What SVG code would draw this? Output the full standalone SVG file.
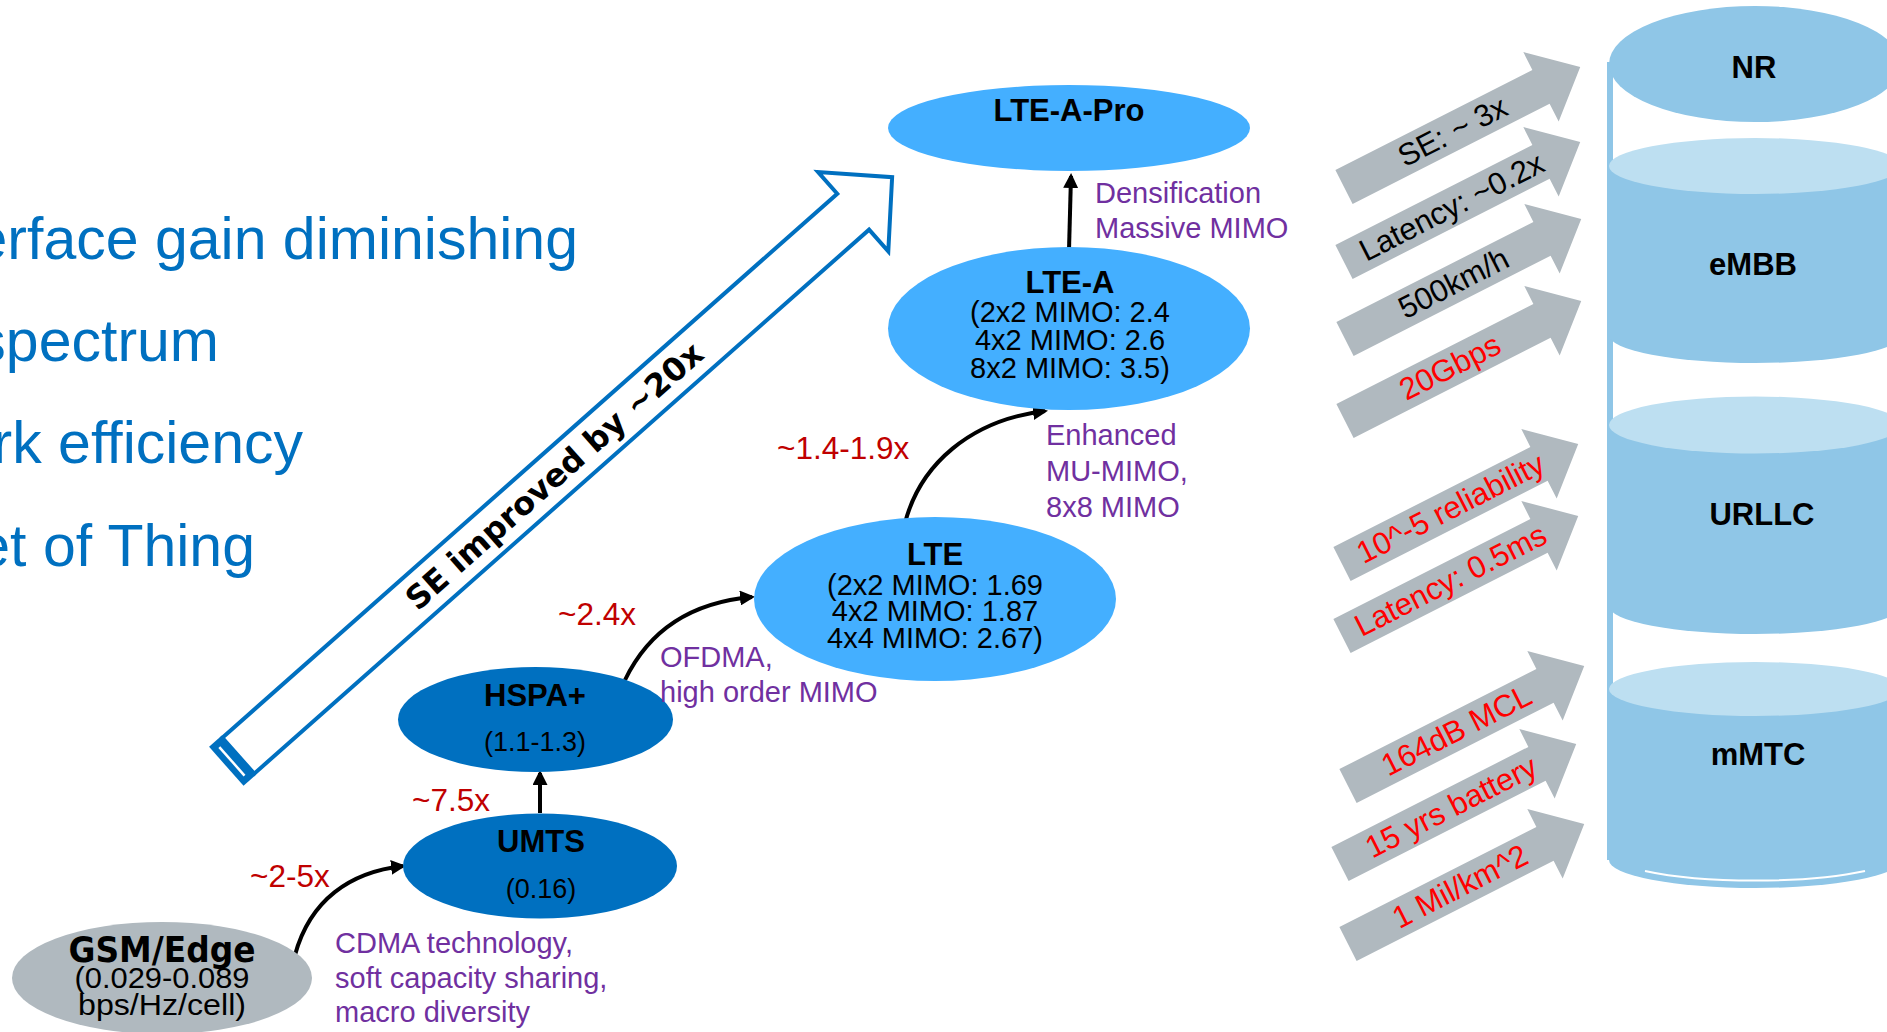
<svg xmlns="http://www.w3.org/2000/svg" width="1887" height="1032" viewBox="0 0 1887 1032">
<style>
text{font-family:"Liberation Sans",Arial,sans-serif;}
.b{font-weight:bold;}
.t{font-size:31px;font-weight:bold;fill:#000;text-anchor:middle;}
.s{font-size:29px;fill:#000;text-anchor:middle;}
.p{font-size:29px;fill:#7030A0;}
.r{font-size:31.5px;fill:#C00000;}
.bl{font-size:59px;fill:#0070C0;text-anchor:end;}
.ga{fill:#B0B9BF;}
.gt{font-size:31px;text-anchor:middle;}
.con{fill:none;stroke:#000;stroke-width:4;marker-end:url(#ah);}
.dk{fill:#0070C0;}
.lt{fill:#44AFFF;}
.cy{fill:#8FC6E7;}
.cyl{fill:#BDDFF1;}
</style>
<defs>
<marker id="ah" viewBox="0 0 10 10" refX="8" refY="5" markerWidth="15" markerHeight="15" markerUnits="userSpaceOnUse" orient="auto"><path d="M0,0 L10,5 L0,10 z" fill="#000"/></marker>
<polygon id="garrow" points="0,-19 221,-19 221,-39 265,0 221,39 221,19 0,19"/>
</defs>
<rect width="1887" height="1032" fill="#fff"/>

<g id="bullets">
<text class="bl" x="578" y="259">erface gain diminishing</text>
<text class="bl" x="219" y="361">spectrum</text>
<text class="bl" x="303" y="463">rk efficiency</text>
<text class="bl" x="255" y="566">et of Thing</text>
</g>

<g id="se-arrow" transform="translate(226.3,766.3) rotate(-41.5)">
<polygon points="16,-24 837,-24 837,-53 889,0 837,53 837,24 16,24" fill="#fff" stroke="#0070C0" stroke-width="4" stroke-linejoin="miter"/>
<rect x="0" y="-26" width="17" height="52" fill="#0070C0"/>
<line x1="7.5" y1="-19" x2="7.5" y2="19" stroke="#fff" stroke-width="2.5"/>
<text x="438" y="11" text-anchor="middle" style="font-family:'DejaVu Sans',Verdana,sans-serif;font-weight:bold;font-size:32px;fill:#000">SE improved by ~20x</text>
</g>

<g id="connectors">
<path class="con" d="M295,955 C310,900 350,872 403,866"/>
<path class="con" d="M540,813 L540,773"/>
<path class="con" d="M625,680 C650,628 695,602 752,597"/>
<path class="con" d="M905,523 C920,465 970,420 1045,411"/>
<path class="con" d="M1069,250 L1071,176"/>
</g>

<g id="gsm">
<ellipse cx="162" cy="978" rx="150" ry="56" fill="#B0B9BF"/>
<text x="162" y="962" text-anchor="middle" textLength="187" lengthAdjust="spacingAndGlyphs" style="font-family:'DejaVu Sans',Verdana,sans-serif;font-weight:bold;font-size:35px">GSM/Edge</text>
<text class="s" x="162" y="988" textLength="175" lengthAdjust="spacingAndGlyphs" style="font-size:29px">(0.029-0.089</text>
<text class="s" x="162" y="1015" textLength="168" lengthAdjust="spacingAndGlyphs" style="font-size:29px">bps/Hz/cell)</text>
</g>

<g id="umts">
<ellipse class="dk" cx="540" cy="866" rx="137" ry="52.5"/>
<text class="t" x="541" y="852">UMTS</text>
<text class="s" x="541" y="898" style="font-size:27px">(0.16)</text>
</g>

<g id="hspa">
<ellipse class="dk" cx="535.5" cy="719.5" rx="137.5" ry="52.5"/>
<text class="t" x="535" y="706">HSPA+</text>
<text class="s" x="535" y="751" style="font-size:27px">(1.1-1.3)</text>
</g>

<g id="lte">
<ellipse class="lt" cx="935" cy="599" rx="181" ry="82"/>
<text class="t" x="935" y="565">LTE</text>
<text class="s" x="935" y="595">(2x2 MIMO: 1.69</text>
<text class="s" x="935" y="621">4x2 MIMO: 1.87</text>
<text class="s" x="935" y="648">4x4 MIMO: 2.67)</text>
</g>

<g id="ltea">
<ellipse class="lt" cx="1069" cy="328.5" rx="181" ry="81.5"/>
<text class="t" x="1070" y="293">LTE-A</text>
<text class="s" x="1070" y="322">(2x2 MIMO: 2.4</text>
<text class="s" x="1070" y="350">4x2 MIMO: 2.6</text>
<text class="s" x="1070" y="378">8x2 MIMO: 3.5)</text>
</g>

<g id="lteapro">
<ellipse class="lt" cx="1069" cy="128" rx="181" ry="43"/>
<text class="t" x="1069" y="121">LTE-A-Pro</text>
</g>

<g id="labels">
<text class="r" x="250" y="887">~2-5x</text>
<text class="r" x="412" y="811">~7.5x</text>
<text class="r" x="558" y="625">~2.4x</text>
<text class="r" x="777" y="459">~1.4-1.9x</text>
<text class="p" x="335" y="953">CDMA technology,</text>
<text class="p" x="335" y="988">soft capacity sharing,</text>
<text class="p" x="335" y="1022">macro diversity</text>
<text class="p" x="660" y="667">OFDMA,</text>
<text class="p" x="660" y="702">high order MIMO</text>
<text class="p" x="1046" y="445">Enhanced</text>
<text class="p" x="1046" y="481">MU-MIMO,</text>
<text class="p" x="1046" y="517">8x8 MIMO</text>
<text class="p" x="1095" y="203">Densification</text>
<text class="p" x="1095" y="238">Massive MIMO</text>
</g>

<g id="nr-cylinder">
<rect class="cy" x="1607" y="62" width="6" height="798"/>
<ellipse class="cy" cx="1755" cy="64" rx="146" ry="58"/>
<path class="cy" d="M1609,166 L1609,335 A146,28 0 0 0 1901,335 L1901,166 Z"/>
<ellipse class="cyl" cx="1755" cy="166" rx="146" ry="28"/>
<path class="cy" d="M1609,425 L1609,606 A146,28 0 0 0 1901,606 L1901,425 Z"/>
<ellipse class="cyl" cx="1755" cy="425" rx="146" ry="28.5"/>
<path class="cy" d="M1609,689 L1609,860 A146,28 0 0 0 1901,860 L1901,689 Z"/>
<ellipse class="cyl" cx="1755" cy="689" rx="146" ry="27"/>
<path d="M1645,871 A146,28 0 0 0 1865,871" fill="none" stroke="#fff" stroke-width="2"/>
<text class="t" x="1754" y="78">NR</text>
<text class="t" x="1753" y="275">eMBB</text>
<text class="t" x="1762" y="525">URLLC</text>
<text class="t" x="1758" y="765">mMTC</text>
</g>

<g id="req-arrows">
<g transform="translate(1344,187) rotate(-26.95)"><use href="#garrow" class="ga"/><text class="gt" x="122" y="10" fill="#000">SE: ~ 3x</text></g>
<g transform="translate(1344,262) rotate(-26.95)"><use href="#garrow" class="ga"/><text class="gt" x="121" y="10" fill="#000">Latency: ~0.2x</text></g>
<g transform="translate(1345,339) rotate(-26.95)"><use href="#garrow" class="ga"/><text class="gt" x="122" y="10" fill="#000">500km/h</text></g>
<g transform="translate(1345,421) rotate(-26.95)"><use href="#garrow" class="ga"/><text class="gt" x="118" y="10" fill="#FF0000">20Gbps</text></g>
<g transform="translate(1342,564) rotate(-26.95)"><use href="#garrow" class="ga"/><text class="gt" x="122" y="10" fill="#FF0000">10^-5 reliability</text></g>
<g transform="translate(1342,636) rotate(-26.95)"><use href="#garrow" class="ga"/><text class="gt" x="122" y="10" fill="#FF0000">Latency: 0.5ms</text></g>
<g transform="translate(1348,786) rotate(-26.95)"><use href="#garrow" class="ga"/><text class="gt" x="122" y="10" fill="#FF0000">164dB MCL</text></g>
<g transform="translate(1340,864) rotate(-26.95)"><use href="#garrow" class="ga"/><text class="gt" x="125" y="10" fill="#FF0000">15 yrs battery</text></g>
<g transform="translate(1348,944) rotate(-26.95)"><use href="#garrow" class="ga"/><text class="gt" x="126" y="10" fill="#FF0000">1 Mil/km^2</text></g>
</g>
</svg>
